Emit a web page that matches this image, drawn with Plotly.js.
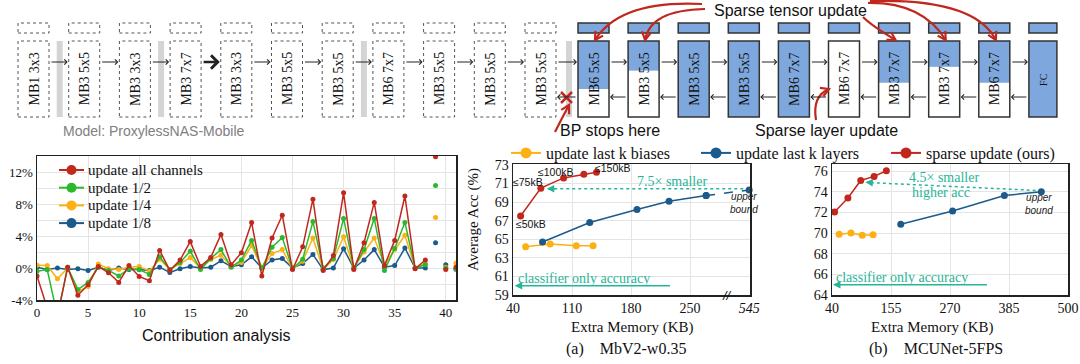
<!DOCTYPE html>
<html><head><meta charset="utf-8">
<script src="https://cdn.plot.ly/plotly-3.0.1.min.js"></script>
<style>html,body{margin:0;padding:0;background:#fff}#chart{width:1080px;height:364px}</style>
</head><body><div id="chart"></div>
<script>
// ---------------- DATA ----------------
// Diagram (ProxylessNAS-Mobile blocks)
const blockLabels = ['MB1 3x3','MB3 5x5','MB3 3x3','MB3 7x7','MB3 3x3','MB3 5x5','MB3 5x5','MB6 7x7','MB3 5x5','MB3 5x5','MB3 5x5',
                     'MB6 5x5','MB3 5x5','MB3 5x5','MB3 5x5','MB6 7x7','MB6 7x7','MB3 7x7','MB3 7x7','MB6 7x7','FC'];
const blockFrozen = [true,true,true,true,true,true,true,true,true,true,true,
                     false,false,false,false,false,false,false,false,false,false];
const blockUpdateFrac = [0,0,0,0,0,0,0,0,0,0,0, 0.63,0.39,1,1,1,0,0.55,0.34,0.55,1];
const grayBarBefore = [1,3,7,11];
const boldArrowAfter = 3;
const tensorUpdateTargets = [11,12,17,18,19];

// Contribution analysis
const contribX = [0,1,2,3,4,5,6,7,8,9,10,11,12,13,14,15,16,17,18,19,20,21,22,23,24,25,26,27,28,29,30,31,32,33,34,35,36,37,38,39,40,41];
const contribAll  = [-1.0,-5.0,-6.0,0.1,-3.4,-2.1,0.2,-0.6,-1.8,0.3,-1.05,-1.6,2.2,-0.3,1.0,3.3,0.2,1.3,4.2,0.4,1.9,5.7,-1.0,3.75,6.6,-0.2,2.65,8.6,-0.3,1.55,9.4,-0.2,3.15,8.2,0.3,3.45,9.0,-0.1,1.0,13.9,-0.2,0.1];
const contribHalf = [-0.4,-0.2,-6.0,0.1,-2.7,-1.8,0.1,-0.3,-1.0,-0.1,-0.2,-0.8,1.4,-0.2,0.7,2.1,-0.2,1.2,2.3,0.1,1.0,3.45,0.0,2.6,3.8,-0.1,1.1,5.8,0.0,1.2,6.2,0.0,2.3,6.2,-0.3,2.45,5.7,0.0,0.4,10.3,0.0,-0.1];
const contribQuarter = [0.35,0.3,-1.35,0.0,-2.95,-2.3,0.5,-0.1,-0.2,0.1,0.2,-0.4,1.1,-0.2,0.55,1.3,0.0,1.05,1.6,0.2,0.7,2.8,0.0,1.8,2.3,-0.1,0.85,3.75,-0.2,1.05,3.9,0.0,2.0,3.75,0.4,2.3,4.1,0.0,0.6,6.3,0.1,0.6];
const contribEighth = [0.1,-0.2,0.0,-0.2,-0.1,-0.3,0.1,-0.3,0.0,-0.2,-0.2,-0.3,0.1,-0.55,-0.1,0.2,0.0,0.1,0.9,0.2,0.4,1.4,0.0,1.0,1.2,0.0,0.55,1.7,-0.2,0.0,2.4,0.0,1.0,2.3,0.1,0.3,2.5,0.0,0.0,3.15,0.4,-0.15];
const contribNames = ['update all channels','update 1/2','update 1/4','update 1/8'];
const contribLastConnected = 38;
const contribXTicks = [0,5,10,15,20,25,30,35,40];
const contribYTicks = [-4,0,4,8,12];

// (a) MbV2-w0.35
const mbBiasX = [55, 84, 115, 135];
const mbBiasY = [64.2, 64.5, 64.3, 64.3];
const mbLayerX = [75, 131, 187, 225, 269, 545];
const mbLayerY = [64.7, 66.8, 68.2, 69.1, 69.7, 70.3];
const mbSparseX = [49, 73, 100, 124, 139];
const mbSparseY = [67.5, 70.5, 71.6, 72.0, 72.2];
const mbSparseLabels = ['≤50kB','≤75kB','≤100kB','','≤150kB'];
const mbXTicks = [40, 110, 180, 250, 545];
const mbYTicks = [59, 61, 63, 65, 67, 69, 71, 73];
const mbClassifierAcc = 60.0;

// (b) MCUNet-5FPS
const mcBiasX = [54, 77, 99, 120];
const mcBiasY = [69.9, 70.0, 69.8, 69.85];
const mcLayerX = [174, 275, 376, 448];
const mcLayerY = [70.85, 72.15, 73.65, 74.0];
const mcSparseX = [45, 71, 96, 122, 146];
const mcSparseY = [72.05, 73.4, 75.1, 75.5, 76.05];
const mcXTicks = [40, 155, 270, 385, 500];
const mcYTicks = [64, 66, 68, 70, 72, 74, 76];
const mcClassifierAcc = 65.0;

const methodNames = ['update last k biases','update last k layers','sparse update (ours)'];

// ---------------- STYLE / HELPERS ----------------
const W = 1080, H = 364;
const px = v => v / W, py = v => 1 - v / H;
const SERIF = 'Liberation Serif, Times New Roman, serif';
const SANS = 'Liberation Sans, Arial, sans-serif';
const RED = '#c0281e', GREEN = '#2cb82c', ORANGE = '#fbb014', BLUE = '#1c5a8c', TEAL = '#27b59a', BBLUE = '#7ea8dd';
const GRID = '#e4e4e4';

const MB_BREAK_POS = 320;
const mbMap = v => v > 300 ? MB_BREAK_POS : v;

const shapes = [], annotations = [];
function txt(xref, yref, x, y, text, font, extra) {
  annotations.push(Object.assign({xref, yref, x, y, text, showarrow:false, xanchor:'center', yanchor:'middle', font}, extra || {}));
}

// ---- diagram ----
const blockLeft = i => i < 11 ? 18 + i * 50.7 : 578 + (i - 11) * 50.1;
const BW = 31, BTOP = 41, BBOT = 117, STOP = 23, SBOT = 33, FWD_Y = 62, BWD_Y = 97;
const rectPx = (x0, y0, x1, y1, extra) => Object.assign({type:'rect', xref:'paper', yref:'paper',
  x0: px(x0), x1: px(x1), y0: py(y1), y1: py(y0)}, extra);

grayBarBefore.forEach(i => {
  const l = blockLeft(i);
  shapes.push(rectPx(l - 12, BTOP, l - 6, BBOT, {fillcolor:'#d4d4d4', line:{width:0}}));
});

blockLabels.forEach((lab, i) => {
  const l = blockLeft(i), r = l + (lab === 'FC' ? 28 : BW);
  if (blockFrozen[i]) {
    shapes.push(rectPx(l, STOP, r, SBOT, {fillcolor:'white', line:{color:'#555', width:1, dash:'dot'}}));
    shapes.push(rectPx(l, BTOP, r, BBOT, {fillcolor:'white', line:{color:'#555', width:1, dash:'dot'}}));
  } else {
    shapes.push(rectPx(l, STOP, r, SBOT, {fillcolor:BBLUE, line:{color:'#333', width:1.5}}));
    shapes.push(rectPx(l, BTOP, r, BBOT, {fillcolor:'white', line:{width:0}}));
    const f = blockUpdateFrac[i];
    if (f > 0) shapes.push(rectPx(l, BTOP, r, BTOP + f * (BBOT - BTOP), {fillcolor:BBLUE, line:{width:0}}));
    shapes.push(rectPx(l, BTOP, r, BBOT, {line:{color:'#333', width:1.5}}));
  }
  txt('paper', 'paper', px((l + r) / 2), py(79), lab, {family:SERIF, size: lab === 'FC' ? 10 : 14, color:'#111'}, {textangle:-90});
});

function pxArrow(x0, y0, x1, y1, w, color, head) {
  annotations.push({xref:'paper', yref:'paper', x:px(x1), y:py(y1), ax:x0 - x1, ay:y0 - y1,
    axref:'pixel', ayref:'pixel', text:'', showarrow:true, arrowhead: head, arrowsize: 1,
    arrowwidth: w, arrowcolor: color, standoff: 0});
}
for (let i = 0; i < blockLabels.length - 1; i++) {
  const r = blockLeft(i) + BW, l2 = blockLeft(i + 1);
  pxArrow(r + 1, FWD_Y, l2 - 1, FWD_Y, i === boldArrowAfter ? 2.6 : 1, '#222', 4);
  if (i >= 10) pxArrow(l2 - 1, BWD_Y, r + 1, BWD_Y, 1, '#222', 4);
}

function curveArrow(x0, y0, cx, cy, x1, y1, color, width) {
  shapes.push({type:'path', xref:'paper', yref:'paper',
    path:`M${px(x0)},${py(y0)} Q${px(cx)},${py(cy)} ${px(x1)},${py(y1)}`, line:{color, width}});
  const dx = x1 - cx, dy = y1 - cy, L = Math.hypot(dx, dy), ux = dx / L, uy = dy / L;
  const hl = 8, hw = 4.5, bx = x1 - ux * hl, by = y1 - uy * hl;
  shapes.push({type:'path', xref:'paper', yref:'paper',
    path:`M${px(bx - uy * hw)},${py(by + ux * hw)} L${px(x1)},${py(y1)} L${px(bx + uy * hw)},${py(by - ux * hw)}`,
    line:{color, width}});
}
const tensorStarts = [[702,4,620,0],[705,9,650,10],[863,17,872,26],[868,3,922,2],[870,1,975,-2]];
tensorUpdateTargets.forEach((b, k) => {
  const s = tensorStarts[k], tx = blockLeft(b) + 17;
  curveArrow(s[0], s[1], s[2], s[3], tx, BTOP - 1, RED, 2.2);
});
curveArrow(816, 120, 812, 96, 829, 89, RED, 2.2);   // sparse layer update
curveArrow(555, 132, 562, 118, 569, 105, RED, 2.2); // BP stops here
shapes.push({type:'line', xref:'paper', yref:'paper', x0:px(561), x1:px(572), y0:py(92), y1:py(103), line:{color:RED, width:2.5}});
shapes.push({type:'line', xref:'paper', yref:'paper', x0:px(561), x1:px(572), y0:py(103), y1:py(92), line:{color:RED, width:2.5}});

const sansFont = s => ({family:SANS, size:s, color:'#111'});
const serifFont = s => ({family:SERIF, size:s, color:'#111'});
const tealFont = s => ({family:SERIF, size:s, color:TEAL});
txt('paper', 'paper', px(790), py(10), 'Sparse tensor update', sansFont(16));
txt('paper', 'paper', px(826), py(130), 'Sparse layer update', sansFont(16));
txt('paper', 'paper', px(610), py(130), 'BP stops here', sansFont(16));
txt('paper', 'paper', px(153), py(131), 'Model: ProxylessNAS-Mobile', {family:SANS, size:14, color:'#808080'});

// ---- chart titles ----
txt('paper', 'paper', px(216), py(335), 'Contribution analysis', sansFont(16));
txt('paper', 'paper', px(632), py(327), 'Extra Memory (KB)', serifFont(15));
txt('paper', 'paper', px(932), py(327), 'Extra Memory (KB)', serifFont(15));
txt('paper', 'paper', px(626), py(349), '(a)    MbV2-w0.35', serifFont(16));
txt('paper', 'paper', px(936), py(349), '(b)    MCUNet-5FPS', serifFont(16));
txt('paper', 'paper', px(473), py(220), 'Average Acc (%)', serifFont(15), {textangle:-90});

// ---- left chart legend (manual, compact) ----
const contribColors = [RED, GREEN, ORANGE, BLUE];
contribNames.forEach((n, k) => {
  const yy = 170 + k * 17.7;
  shapes.push({type:'line', xref:'paper', yref:'paper', x0:px(59), x1:px(84), y0:py(yy), y1:py(yy), line:{color:contribColors[k], width:2}});
  shapes.push({type:'circle', xref:'paper', yref:'paper', x0:px(66.5), x1:px(76.5), y0:py(yy + 5), y1:py(yy - 5),
    fillcolor:contribColors[k], line:{width:0}});
  txt('paper', 'paper', px(86), py(yy), n, serifFont(15), {xanchor:'left'});
});

// ---- chart annotations (a) ----
const sparseLabelPos = [[61.8,66.6],[57.5,71.15],[91.5,72.25],null,[159,72.7]];
mbSparseLabels.forEach((t, i) => { if (t) txt('x2', 'y2', sparseLabelPos[i][0], sparseLabelPos[i][1], t, sansFont(10.5)); });
txt('x2', 'y2', 229, 71.2, '7.5× smaller', tealFont(14));
shapes.push({type:'line', xref:'x2', yref:'y2', x0:313, x1:86, y0:70.43, y1:70.43, line:{color:TEAL, width:1.5, dash:'dot'}});
annotations.push({xref:'x2', yref:'y2', x:80, y:70.43, axref:'x2', ayref:'y2', ax:92, ay:70.43, text:'', showarrow:true,
  arrowhead:2, arrowsize:1, arrowwidth:1.5, arrowcolor:TEAL, standoff:0});
txt('x2', 'y2', 124, 60.75, 'classifier only accuracy', tealFont(14));
annotations.push({xref:'x2', yref:'y2', x:42, y:mbClassifierAcc, axref:'x2', ayref:'y2', ax:228, ay:mbClassifierAcc, text:'', showarrow:true,
  arrowhead:2, arrowsize:1, arrowwidth:1.5, arrowcolor:TEAL, standoff:0});
txt('x2', 'y2', 314, 68.9, '<i>upper<br>bound</i>', {family:SANS, size:10, color:'#222'});
txt('x2', 'paper', 294, py(295), '<i>//</i>', sansFont(13));

// ---- chart annotations (b) ----
txt('x3', 'y3', 258, 75.35, '4.5× smaller', tealFont(14));
txt('x3', 'y3', 252, 73.98, 'higher acc', tealFont(14));
shapes.push({type:'line', xref:'x3', yref:'y3', x0:437, x1:112, y0:74.14, y1:74.9, line:{color:TEAL, width:1.5, dash:'dot'}});
annotations.push({xref:'x3', yref:'y3', x:105, y:74.93, axref:'x3', ayref:'y3', ax:120, ay:74.89, text:'', showarrow:true,
  arrowhead:2, arrowsize:1, arrowwidth:1.5, arrowcolor:TEAL, standoff:0});
txt('x3', 'y3', 176.5, 65.7, 'classifier only accuracy', tealFont(14));
annotations.push({xref:'x3', yref:'y3', x:42, y:mcClassifierAcc, axref:'x3', ayref:'y3', ax:345, ay:mcClassifierAcc, text:'', showarrow:true,
  arrowhead:2, arrowsize:1, arrowwidth:1.5, arrowcolor:TEAL, standoff:0});
txt('x3', 'y3', 444, 72.8, '<i>upper<br>bound</i>', {family:SANS, size:10, color:'#222'});

// ---------------- TRACES ----------------
const traces = [];
const contribSeries = [contribAll, contribHalf, contribQuarter, contribEighth];
[3,2,1,0].forEach(k => {
  const ys = contribSeries[k];
  const cx = contribX.filter(x => x <= contribLastConnected);
  traces.push({x:cx, y:cx.map(x => ys[contribX.indexOf(x)]), name:contribNames[k], mode:'lines+markers', xaxis:'x', yaxis:'y', showlegend:false,
    line:{color:contribColors[k], width:1.5}, marker:{color:contribColors[k], size:5}});
  const dx = contribX.filter(x => x > contribLastConnected);
  traces.push({x:dx, y:dx.map(x => ys[contribX.indexOf(x)]), name:contribNames[k], mode:'markers', xaxis:'x', yaxis:'y', showlegend:false,
    marker:{color:contribColors[k], size:5}});
});

const methodColors = [ORANGE, BLUE, RED];
methodNames.forEach((n, k) => traces.push({x:[null], y:[null], name:n, mode:'lines+markers', xaxis:'x2', yaxis:'y2',
  line:{color:methodColors[k], width:2}, marker:{color:methodColors[k], size:11}, legend:'legend2'}));

// (a)
const mbLx = mbLayerX.map(mbMap);
traces.push({x:mbBiasX, y:mbBiasY, mode:'lines+markers', xaxis:'x2', yaxis:'y2', showlegend:false,
  line:{color:ORANGE, width:1.5}, marker:{color:ORANGE, size:7}});
traces.push({x:mbLx.slice(0, -1), y:mbLayerY.slice(0, -1), mode:'lines+markers', xaxis:'x2', yaxis:'y2', showlegend:false,
  line:{color:BLUE, width:1.5}, marker:{color:BLUE, size:7}});
traces.push({x:mbLx.slice(-2), y:mbLayerY.slice(-2), mode:'lines+markers', xaxis:'x2', yaxis:'y2', showlegend:false,
  line:{color:BLUE, width:1.5, dash:'dash'}, marker:{color:BLUE, size:7}, cliponaxis:false});
traces.push({x:mbSparseX, y:mbSparseY, mode:'lines+markers', xaxis:'x2', yaxis:'y2', showlegend:false,
  line:{color:RED, width:1.5}, marker:{color:RED, size:7}});

// (b)
traces.push({x:mcBiasX, y:mcBiasY, mode:'lines+markers', xaxis:'x3', yaxis:'y3', showlegend:false,
  line:{color:ORANGE, width:1.5}, marker:{color:ORANGE, size:7}});
traces.push({x:mcLayerX, y:mcLayerY, mode:'lines+markers', xaxis:'x3', yaxis:'y3', showlegend:false,
  line:{color:BLUE, width:1.5}, marker:{color:BLUE, size:7}});
traces.push({x:mcSparseX, y:mcSparseY, mode:'lines+markers', xaxis:'x3', yaxis:'y3', showlegend:false,
  line:{color:RED, width:1.5}, marker:{color:RED, size:7}});

// ---------------- LAYOUT ----------------
const axBase = {showline:true, mirror:true, linecolor:'#222', linewidth:1.5, ticks:'', zeroline:false, automargin:false,
  showgrid:true, gridcolor:GRID, gridwidth:1, tickfont:{family:SERIF, size:14, color:'#111'}};
const layout = {
  width:W, height:H, margin:{l:0, r:0, t:0, b:0, autoexpand:false}, paper_bgcolor:'white', plot_bgcolor:'white',
  showlegend:true,
  xaxis: Object.assign({}, axBase, {domain:[px(37), px(456)], range:[0, 41], anchor:'y',
    tickvals:contribXTicks, tickfont:{family:SERIF, size:13, color:'#111'}}),
  yaxis: Object.assign({}, axBase, {domain:[py(300), py(156)], range:[-4, 14], anchor:'x',
    tickvals:contribYTicks, ticktext:contribYTicks.map(v => v + '%'), tickfont:{family:SERIF, size:13, color:'#111'},
    minor:{dtick:2, tick0:0, showgrid:true, gridcolor:GRID}}),
  xaxis2: Object.assign({}, axBase, {domain:[px(513), px(750)], range:[40, 321], anchor:'y2',
    tickvals:mbXTicks.map(mbMap), ticktext:mbXTicks.map(v => v > 300 ? '<i>' + v + '</i>' : String(v))}),
  yaxis2: Object.assign({}, axBase, {domain:[py(295), py(164)], range:[59, 73.1], anchor:'x2', tickvals:mbYTicks}),
  xaxis3: Object.assign({}, axBase, {domain:[px(832), px(1068)], range:[40, 500], anchor:'y3', tickvals:mcXTicks}),
  yaxis3: Object.assign({}, axBase, {domain:[py(295), py(164)], range:[64, 76.7], anchor:'x3', tickvals:mcYTicks}),
  legend2:{orientation:'h', x:px(506), y:py(153), xanchor:'left', yanchor:'middle', bgcolor:'rgba(0,0,0,0)',
    font:{family:SERIF, size:16, color:'#111'}, entrywidth:145, itemwidth:30},
  shapes, annotations
};
Plotly.newPlot('chart', traces, layout, {displayModeBar:false, staticPlot:true});
</script></body></html>
